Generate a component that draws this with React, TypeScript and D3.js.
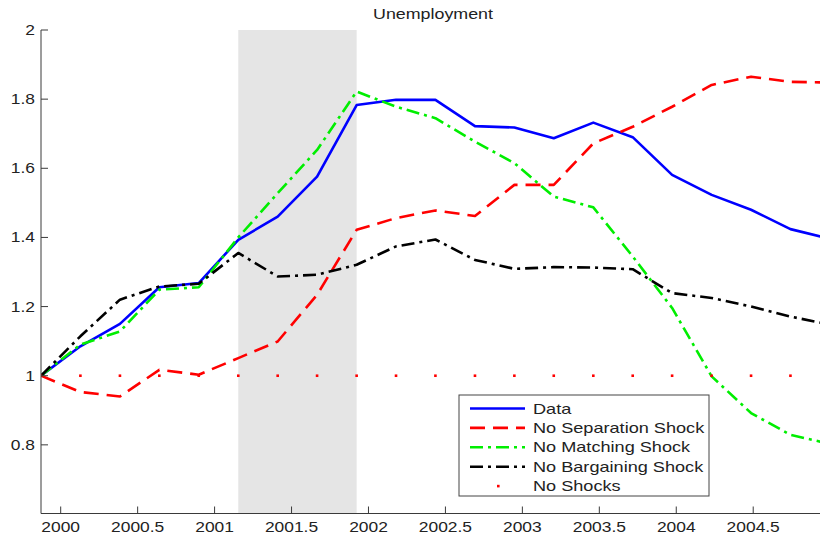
import React from "react";
import * as d3 from "d3";

const years = [1999.872, 2000.128, 2000.385, 2000.641, 2000.897, 2001.154, 2001.41, 2001.666, 2001.923, 2002.179, 2002.435, 2002.692, 2002.948, 2003.204, 2003.461, 2003.717, 2003.973, 2004.23, 2004.486, 2004.742, 2004.999];
const dataSeries = [1.0, 1.085, 1.15, 1.256, 1.268, 1.393, 1.46, 1.576, 1.783, 1.798, 1.798, 1.722, 1.718, 1.687, 1.732, 1.69, 1.581, 1.523, 1.48, 1.424, 1.396];
const noSeparation = [1.0, 0.953, 0.94, 1.017, 1.003, 1.051, 1.099, 1.234, 1.422, 1.456, 1.478, 1.462, 1.552, 1.552, 1.672, 1.72, 1.778, 1.841, 1.865, 1.85, 1.848];
const noMatching = [1.0, 1.09, 1.128, 1.249, 1.256, 1.4, 1.528, 1.653, 1.822, 1.778, 1.745, 1.677, 1.615, 1.518, 1.487, 1.345, 1.196, 0.998, 0.892, 0.829, 0.803];
const noBargaining = [1.0, 1.114, 1.22, 1.258, 1.266, 1.355, 1.287, 1.292, 1.321, 1.374, 1.394, 1.335, 1.309, 1.314, 1.313, 1.308, 1.239, 1.225, 1.2, 1.171, 1.148];
const noShocks = [1, 1, 1, 1, 1, 1, 1, 1, 1, 1, 1, 1, 1, 1, 1, 1, 1, 1, 1, 1, 1];
const recession = [2001.154, 2001.923];
const xTicks = [2000, 2000.5, 2001, 2001.5, 2002, 2002.5, 2003, 2003.5, 2004, 2004.5];
const yTicks = [0.8, 1, 1.2, 1.4, 1.6, 1.8, 2];
const title = "Unemployment";

const seriesDefs = [
  { name: "Data", values: dataSeries, color: "#0000ff", dash: "" },
  { name: "No Separation Shock", values: noSeparation, color: "#ff0000", dash: "15,8" },
  { name: "No Matching Shock", values: noMatching, color: "#00ee00", dash: "13,5,3,5" },
  { name: "No Bargaining Shock", values: noBargaining, color: "#000000", dash: "13,5,3,5" },
];

const FONT = "'Liberation Sans', Arial, Helvetica, sans-serif";
const FS = 14.5;

export default function App() {
  const W = 820, H = 535;
  const x = d3.scaleLinear().domain([1999.872, 2004.999]).range([41, 830]);
  const y = d3.scaleLinear().domain([0.6, 2]).range([514, 30]);
  const line = d3.line<number>().x((_, i) => x(years[i])).y((v) => y(v));
  const axisColor = "#3a3a3a";

  const legendX = 459, legendY = 395, legendW = 250, legendH = 101;
  const legendRows = [...seriesDefs.map((s) => s.name), "No Shocks"];
  const rowY = (i: number) => 408.5 + i * 19.4;

  return (
    <div style={{ position: "absolute", left: 0, top: 0 }}>
      <svg width={W} height={H} style={{ display: "block", background: "#fff" }} fontFamily={FONT}>
        <defs>
          <clipPath id="plotClip">
            <rect x={41} y={30} width={789} height={484} />
          </clipPath>
        </defs>
        <rect
          x={x(recession[0])}
          y={y(2)}
          width={x(recession[1]) - x(recession[0])}
          height={y(0.6) - y(2)}
          fill="#e5e5e5"
        />
        <g clipPath="url(#plotClip)">
          {seriesDefs.map((s) => (
            <path
              key={s.name}
              d={line(s.values) || ""}
              fill="none"
              stroke={s.color}
              strokeWidth={2.6}
              strokeDasharray={s.dash || undefined}
              strokeLinejoin="round"
            />
          ))}
          {noShocks.map((v, i) => (
            <rect key={i} x={x(years[i]) - 1.3} y={y(v) - 1.3} width={2.6} height={2.6} fill="#ff0000" />
          ))}
        </g>
        <line x1={41} x2={41} y1={y(2)} y2={513.5} stroke={axisColor} strokeWidth={1} />
        <line x1={41} x2={830} y1={513.5} y2={513.5} stroke={axisColor} strokeWidth={1} />
        {yTicks.map((t) => (
          <g key={t}>
            <line x1={41} x2={48} y1={y(t)} y2={y(t)} stroke={axisColor} />
            <g transform={`translate(35,${y(t) + 5}) scale(1.2,1)`}>
              <text textAnchor="end" fontSize={FS} fill="#222">{String(t)}</text>
            </g>
          </g>
        ))}
        {xTicks.map((t) => (
          <g key={t}>
            <line x1={x(t)} x2={x(t)} y1={513.5} y2={506.5} stroke={axisColor} />
            <g transform={`translate(${x(t)},532) scale(1.2,1)`}>
              <text textAnchor="middle" fontSize={FS} fill="#222">{String(t)}</text>
            </g>
          </g>
        ))}
        <g transform={`translate(433,19) scale(1.23,1)`}>
          <text textAnchor="middle" fontSize={FS} fill="#222">{title}</text>
        </g>
        <rect x={legendX} y={legendY} width={legendW} height={legendH} fill="#fff" stroke="#444" strokeWidth={1} />
        {legendRows.map((name, i) => {
          const s = seriesDefs[i];
          return (
            <g key={name}>
              {s ? (
                <line
                  x1={470}
                  x2={525}
                  y1={rowY(i)}
                  y2={rowY(i)}
                  stroke={s.color}
                  strokeWidth={2.6}
                  strokeDasharray={s.dash || undefined}
                />
              ) : (
                <rect x={497} y={rowY(i) - 1.3} width={2.6} height={2.6} fill="#ff0000" />
              )}
              <g transform={`translate(533,${rowY(i) + 5}) scale(1.25,1)`}>
                <text fontSize={FS} fill="#222">{name}</text>
              </g>
            </g>
          );
        })}
      </svg>
    </div>
  );
}
